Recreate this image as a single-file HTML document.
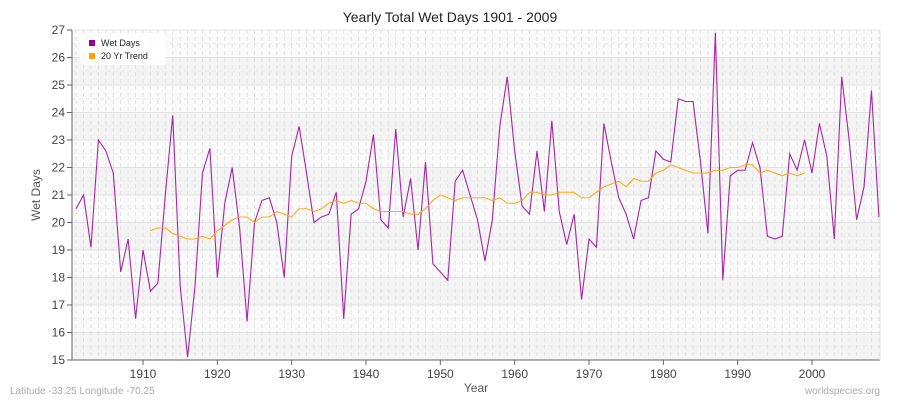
<!DOCTYPE html>
<html><head><meta charset="utf-8"><style>
body{margin:0;background:#fff;}
svg{display:block;font-family:"Liberation Sans",sans-serif;}
</style></head><body>
<svg id="chart" width="900" height="400">
<text x="450" y="22" text-anchor="middle" font-size="14" fill="#222">Yearly Total Wet Days 1901 - 2009</text>
<g id="bands"></g><g id="grid"></g><g id="axes"></g><g id="series"></g>
<text x="476" y="392" text-anchor="middle" font-size="12" fill="#555">Year</text>
<text x="40" y="195" text-anchor="middle" font-size="12" fill="#555" transform="rotate(-90 40 195)">Wet Days</text>
<text x="10" y="394" font-size="10" fill="#aaa">Latitude -33.25 Longitude -70.25</text>
<text x="880" y="394" text-anchor="end" font-size="10" fill="#aaa">worldspecies.org</text>
<g>
<rect x="80" y="33" width="86" height="32" rx="4" fill="#fff" opacity="0.9"/>
<rect x="89" y="40" width="6" height="6" fill="#990099"/>
<text x="101" y="46" font-size="9" fill="#222">Wet Days</text>
<rect x="89" y="53" width="6" height="6" fill="#ffa500"/>
<text x="101" y="59" font-size="9" fill="#222">20 Yr Trend</text>
</g>
</svg>
<script>
const startYear = 1901;
const wetDays = [20.5,21.0,19.1,23.0,22.6,21.8,18.2,19.4,16.5,19.0,17.5,17.8,21.0,23.9,17.7,15.1,17.7,21.8,22.7,18.0,20.7,22.0,19.8,16.4,20.0,20.8,20.9,20.0,18.0,22.4,23.5,21.8,20.0,20.2,20.3,21.1,16.5,20.3,20.5,21.5,23.2,20.1,19.8,23.4,20.2,21.6,19.0,22.2,18.5,18.2,17.9,21.5,21.9,21.0,20.1,18.6,20.1,23.5,25.3,22.6,20.6,20.3,22.6,20.4,23.7,20.4,19.2,20.3,17.2,19.4,19.1,23.6,22.2,20.9,20.3,19.4,20.8,20.9,22.6,22.3,22.2,24.5,24.4,24.4,22.2,19.6,26.9,17.9,21.7,21.9,21.9,22.9,22.0,19.5,19.4,19.5,22.5,21.9,23.0,21.8,23.6,22.4,19.4,25.3,23.0,20.1,21.3,24.8,20.2];
const trendStart = 1911;
const trend = [19.7,19.8,19.8,19.6,19.5,19.4,19.4,19.5,19.4,19.7,19.9,20.1,20.2,20.2,20.0,20.2,20.2,20.4,20.3,20.2,20.5,20.5,20.4,20.5,20.7,20.8,20.7,20.8,20.7,20.7,20.5,20.4,20.4,20.4,20.4,20.3,20.3,20.5,20.8,21.0,20.9,20.8,20.9,20.9,20.9,20.9,20.8,20.9,20.7,20.7,20.8,21.1,21.1,21.0,21.0,21.1,21.1,21.1,20.9,20.9,21.1,21.3,21.4,21.5,21.3,21.6,21.5,21.5,21.8,21.9,22.1,22.0,21.9,21.8,21.8,21.8,21.9,21.9,22.0,22.0,22.1,22.1,21.8,21.9,21.8,21.7,21.8,21.7,21.8];
const yTicks = [15,16,17,18,19,20,21,22,23,24,25,26,27];
const xTicks = [1910,1920,1930,1940,1950,1960,1970,1980,1990,2000];

const L=72,R=880,T=30,B=360;
const x = yr => 143 + (yr-1910)*(812-143)/90;
const y = v => B - (v-15)*(B-T)/12;
const NS='http://www.w3.org/2000/svg';
function mk(tag, parent, attrs){const e=document.createElementNS(NS,tag);for(const k in attrs)e.setAttribute(k,attrs[k]);parent.appendChild(e);return e;}
const bands=document.getElementById('bands'), grid=document.getElementById('grid'), axes=document.getElementById('axes'), series=document.getElementById('series');
for(let v=15; v<27; v++){
  const r=mk('rect',bands,{x:L,y:y(v+1),width:R-L,height:y(v)-y(v+1),fill:(v%2===1)?'#f4f4f4':'#fafafa'});
  
  
}
for(let v=15.5; v<27; v+=1){
  const l=mk('line',grid,{x1:L,x2:R,y1:y(v),y2:y(v),stroke:'#ececec','stroke-width':1,'stroke-dasharray':'4,3'});
  
  
}
yTicks.forEach(v=>{
  const l=mk('line',grid,{x1:L,x2:R,y1:y(v),y2:y(v),stroke:'#e2e2e2','stroke-width':1});
  
  
  const t=mk('line',axes,{x1:L-5,x2:L,y1:y(v),y2:y(v),stroke:'#666'});
  
  
  const tx=mk('text',axes,{x:L-7,y:y(v)+4,'text-anchor':'end','font-size':12,fill:'#444'});
  tx.textContent=v;
  
  
});
for(let yr=startYear; yr<=2009; yr++){
  const l=mk('line',grid,{x1:x(yr),x2:x(yr),y1:T,y2:B,stroke:'#e2e2e2','stroke-width':1,'stroke-dasharray':'4,3'});
  
  
}
xTicks.forEach(yr=>{
  const t=mk('line',axes,{x1:x(yr),x2:x(yr),y1:B,y2:B+5,stroke:'#666'});
  
  
  const tx=mk('text',axes,{x:x(yr),y:B+18,'text-anchor':'middle','font-size':12,fill:'#444'});
  tx.textContent=yr;
  
  
});
const ax=mk('path',axes,{d:`M${L},${T} L${L},${B} L${R},${B}`,fill:'none',stroke:'#666','stroke-width':1});


const rb=mk('path',axes,{d:`M${L},${T} L${R},${T} L${R},${B}`,fill:'none',stroke:'#e6e6e6','stroke-width':1});


const wp=mk('polyline',series,{points:wetDays.map((v,i)=>x(startYear+i)+','+y(v)).join(' '),fill:'none',stroke:'#990099','stroke-width':1.1,'stroke-opacity':0.85});


const tp=mk('polyline',series,{points:trend.map((v,i)=>x(trendStart+i)+','+y(v)).join(' '),fill:'none',stroke:'#ffa500','stroke-width':1.1,'stroke-opacity':0.9});


</script>
</body></html>
